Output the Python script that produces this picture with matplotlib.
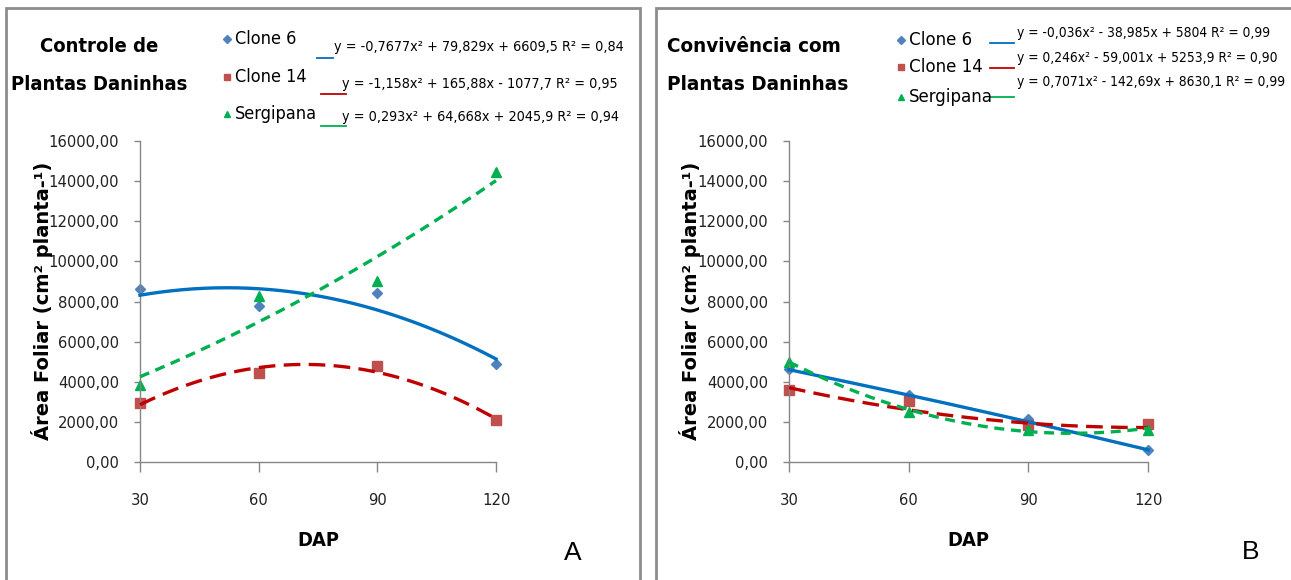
import numpy as np
import matplotlib
matplotlib.use('Agg')
import matplotlib.pyplot as plt
from matplotlib import font_manager
from matplotlib.lines import Line2D
from matplotlib.patches import Rectangle
from matplotlib.ticker import FuncFormatter

# dados
dap = [30, 60, 90, 120]

# A - Controle de Plantas Daninhas
a_clone6 = [8600, 7800, 8400, 4860]
a_clone14 = [2940, 4440, 4780, 2080]
a_sergipana = [3860, 8280, 9010, 14440]
a_fit_clone6 = [-0.7677, 79.829, 6609.5]
a_fit_clone14 = [-1.158, 165.88, -1077.7]
a_fit_sergipana = [0.293, 64.668, 2045.9]
a_eqs = ['y = -0,7677x² + 79,829x + 6609,5 R² = 0,84',
         'y = -1,158x² + 165,88x - 1077,7 R² = 0,95',
         'y = 0,293x² + 64,668x + 2045,9 R² = 0,94']

# B - Convivência com Plantas Daninhas
b_clone6 = [4660, 3340, 2160, 620]
b_clone14 = [3610, 3030, 1830, 1910]
b_sergipana = [4990, 2490, 1580, 1610]
b_fit_clone6 = [-0.036, -38.985, 5804]
b_fit_clone14 = [0.246, -59.001, 5253.9]
b_fit_sergipana = [0.7071, -142.69, 8630.1]
b_eqs = ['y = -0,036x² - 38,985x + 5804 R² = 0,99',
         'y = 0,246x² - 59,001x + 5253,9 R² = 0,90',
         'y = 0,7071x² - 142,69x + 8630,1 R² = 0,99']

series_names = ['Clone 6', 'Clone 14', 'Sergipana']
y_ticks = [0, 2000, 4000, 6000, 8000, 10000, 12000, 14000, 16000]

# procura uma fonte estreita (parecida com Calibri comprimida)
fnames = [f.fname for f in font_manager.fontManager.ttflist]


def pick(cands):
    for c in cands:
        for fn in fnames:
            if fn.split('/')[-1].lower() == c.lower():
                return fn
    return None


reg_file = pick(['LiberationSansNarrow-Regular.ttf', 'DejaVuSansCondensed.ttf',
                 'RobotoCondensed-Regular.ttf', 'OpenSans_Condensed-Regular.ttf'])
bold_file = pick(['LiberationSansNarrow-Bold.ttf', 'DejaVuSansCondensed-Bold.ttf',
                  'RobotoCondensed-Bold.ttf', 'OpenSans_Condensed-Bold.ttf'])
fp_reg = font_manager.FontProperties(fname=reg_file) if reg_file else \
    font_manager.FontProperties(family='DejaVu Sans')
fp_bold = font_manager.FontProperties(fname=bold_file) if bold_file else \
    font_manager.FontProperties(family='DejaVu Sans', weight='bold')

W, H = 1291, 580
fig = plt.figure(figsize=(W / 100, H / 100), dpi=100)
renderer = fig.canvas.get_renderer()


def fx(px):
    return px / W


def fy(py):
    return 1 - py / H


def sized(txt, width, bold=False, grow=1.0):
    # tamanho de fonte a partir da largura (px)
    f = (fp_bold if bold else fp_reg).copy()
    f.set_size(12)
    t = fig.text(0, 0, txt, fontproperties=f)
    w = t.get_window_extent(renderer).width
    t.remove()
    f.set_size(12 * width / w * grow)
    return f


# molduras dos dois painéis
for x0, x1 in [(6, 640), (656, 1300)]:
    fig.add_artist(Rectangle((fx(x0), fy(600)), fx(x1) - fx(x0), fy(8) - fy(600),
                             transform=fig.transFigure, fill=False,
                             edgecolor='#8c8c8c', linewidth=2))

mk_colors = ['#4F81BD', '#C0504D', '#00B050']
mk_shapes = ['D', 's', '^']
mk_sizes = [5.5, 6.5, 6.5]
ln_colors = ['#0070C0', '#C00000', '#00B050']
ln_styles = ['-', (0, (5, 2.5)), (0, (3, 2))]

tick_fp = sized('16000,00', 67, grow=1.05)
dap_fp = sized('DAP', 30, bold=True, grow=1.4)

panels = [
    dict(left=140, right=496, data=[a_clone6, a_clone14, a_sergipana],
         fits=[a_fit_clone6, a_fit_clone14, a_fit_sergipana], eqs=a_eqs,
         title=['Controle de', 'Plantas Daninhas'], title_w=147, title_x=99, title_ha='center',
         title_y=[47, 85],
         leg_x=227, leg_y=[39, 77, 114], leg_w=71,
         eq_x=[334, 342, 342], eq_y=[47, 84, 117], eq_ref=0, eq_w=270,
         seg=[(317, 333, 58), (321, 346, 94), (321, 346, 126)],
         letter=('A', 573, 553), ylab_x=42),
    dict(left=789, right=1148, data=[b_clone6, b_clone14, b_sergipana],
         fits=[b_fit_clone6, b_fit_clone14, b_fit_sergipana], eqs=b_eqs,
         title=['Convivência com', 'Plantas Daninhas'], title_w=150, title_x=667, title_ha='left',
         title_y=[47, 85],
         leg_x=901, leg_y=[40, 67, 97], leg_w=73,
         eq_x=[1017, 1017, 1017], eq_y=[33, 58, 82], eq_ref=2, eq_w=250,
         seg=[(990, 1014, 43), (990, 1014, 68), (990, 1014, 97)],
         letter=('B', 1251, 552), ylab_x=690),
]

xs = np.linspace(dap[0], dap[-1], 200)
for p in panels:
    ax = fig.add_axes([fx(p['left']), fy(462), fx(p['right']) - fx(p['left']), fy(141) - fy(462)])
    for i in range(3):
        ax.plot(dap, p['data'][i], linestyle='none', marker=mk_shapes[i],
                markersize=mk_sizes[i], color=mk_colors[i], zorder=2, clip_on=False)
    for i in range(3):
        ax.plot(xs, np.polyval(p['fits'][i], xs), color=ln_colors[i],
                linestyle=ln_styles[i], linewidth=2.4, zorder=3, clip_on=False)
    ax.set_xlim(30, 120)
    ax.set_ylim(0, 16000)
    ax.set_xticks(dap)
    ax.set_yticks(y_ticks)
    ax.yaxis.set_major_formatter(FuncFormatter(lambda v, pos: f'{v:.2f}'.replace('.', ',')))
    for s in ['top', 'right']:
        ax.spines[s].set_visible(False)
    for s in ['left', 'bottom']:
        ax.spines[s].set_color('#868686')
        ax.spines[s].set_linewidth(1)
    ax.tick_params(axis='y', direction='out', length=4, width=1, color='#868686', pad=11)
    ax.tick_params(axis='x', direction='out', length=7, width=1, color='#868686', pad=15)
    for lab in ax.get_xticklabels() + ax.get_yticklabels():
        lab.set_fontproperties(tick_fp)
        lab.set_color('#222222')
    ax.set_xlabel('DAP', fontproperties=dap_fp, labelpad=17)
    fig.text(fx(p['ylab_x']), fy(301), 'Área Foliar (cm² planta-¹)', rotation=90,
             ha='center', va='center', fontfamily='DejaVu Sans', fontweight='bold', fontsize=14)

    title_fp = sized(p['title'][1], p['title_w'], bold=True, grow=1.2)
    for txt, ty in zip(p['title'], p['title_y']):
        fig.text(fx(p['title_x']), fy(ty), txt, ha=p['title_ha'], va='center', fontproperties=title_fp)

    leg_fp = sized('Sergipana', p['leg_w'], grow=1.15)
    eq_fp = sized(p['eqs'][p['eq_ref']], p['eq_w'], grow=1.07)
    for i in range(3):
        fig.add_artist(Line2D([fx(p['leg_x'])], [fy(p['leg_y'][i])], marker=mk_shapes[i],
                              markersize=mk_sizes[i] - 1.5, color=mk_colors[i], linestyle='none',
                              transform=fig.transFigure))
        fig.text(fx(p['leg_x'] + 8), fy(p['leg_y'][i]), series_names[i], ha='left', va='center',
                 fontproperties=leg_fp)
        x0, x1, sy = p['seg'][i]
        fig.add_artist(Line2D([fx(x0), fx(x1)], [fy(sy), fy(sy)], color=ln_colors[i],
                              linewidth=1.3, transform=fig.transFigure))
        fig.text(fx(p['eq_x'][i]), fy(p['eq_y'][i]), p['eqs'][i], ha='left', va='center',
                 fontproperties=eq_fp)
    lt, lx, ly = p['letter']
    fig.text(fx(lx), fy(ly), lt, ha='center', va='center', fontfamily='Liberation Sans', fontsize=19)

fig.savefig('out.png', dpi=100)
